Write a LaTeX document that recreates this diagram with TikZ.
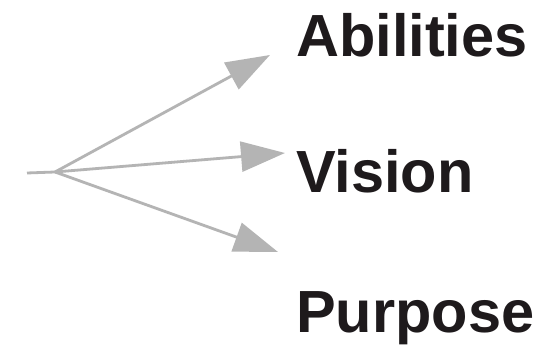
\documentclass[tikz,border=0pt]{standalone}
\usepackage{fontspec}
\setmainfont{Liberation Sans}
\usetikzlibrary{arrows.meta}
\definecolor{arrowgray}{HTML}{B4B4B4}
\definecolor{labelblack}{HTML}{1E1A1C}
\tikzset{
  fanline/.style={draw=arrowgray, line width=2.8pt},
  fanarrow/.style={fanline, -{Triangle[length=44pt,width=30pt]}},
  label/.style={anchor=base west, inner sep=0pt, text=labelblack, font=\fontsize{59.5}{61}\selectfont\bfseries}
}
\begin{document}
\begin{tikzpicture}[x=1pt,y=1pt]
  \useasboundingbox[fill=white] (0,0) rectangle (555,345);
  \coordinate (start) at (27,172);
  \coordinate (fan) at (55,173);
  \coordinate (tipA) at (270,290);
  \coordinate (tipV) at (285,192);
  \coordinate (tipP) at (278,93);
  \node[label] (abilities) at (296,288) {Abilities};
  \node[label] (vision) at (296,152) {Vision};
  \node[label] (purpose) at (296,12) {Purpose};
  \draw[fanline] (start) -- (fan);
  \draw[fanarrow] (fan) -- (tipA);
  \draw[fanarrow] (fan) -- (tipV);
  \draw[fanarrow] (fan) -- (tipP);
\end{tikzpicture}
\end{document}
